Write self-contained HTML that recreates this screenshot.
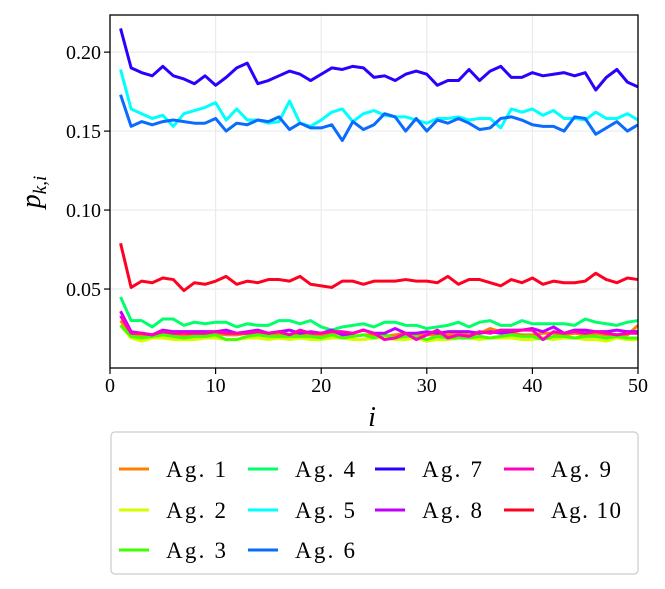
<!DOCTYPE html>
<html><head><meta charset="utf-8"><style>
body{margin:0;background:#fff}
svg{display:block}
text{font-family:"Liberation Serif",serif;fill:#000}
</style></head><body>
<svg id="chart" width="665" height="589" viewBox="0 0 665 589" xmlns="http://www.w3.org/2000/svg">
<g id="grid"></g>
<g id="series"></g>
<rect x="110" y="15" width="528" height="353" fill="none" stroke="#000" stroke-width="1.3"/>
<g id="ticks"></g>
<text x="372" y="426" font-size="28" font-style="italic" text-anchor="middle">i</text>
<text transform="translate(40,192) rotate(-90)" font-size="28" font-style="italic" text-anchor="middle">p<tspan font-size="19" dy="6">k,i</tspan></text>
<g>
<rect x="111" y="432" width="527" height="142" rx="4" fill="#fff" stroke="#ccc" stroke-width="1.2"/>
<g id="legend-items"></g>
</g>
</svg>
<script>
const xs = Array.from({length:50},(_,i)=>i+1);
const labels = ["Ag. 1","Ag. 2","Ag. 3","Ag. 4","Ag. 5","Ag. 6","Ag. 7","Ag. 8","Ag. 9","Ag. 10"];
const colors = ["#ff8000","#d4ff00","#40ff00","#00ff6a","#00ffff","#0a6bff","#2a00ff","#bf00ff","#ff00bf","#ff0020"];
const ag1 = [0.030,0.021,0.020,0.021,0.022,0.021,0.020,0.021,0.021,0.022,0.021,0.021,0.022,0.022,0.021,0.021,0.021,0.022,0.020,0.021,0.022,0.022,0.020,0.021,0.021,0.020,0.021,0.022,0.021,0.021,0.021,0.021,0.022,0.021,0.022,0.025,0.023,0.022,0.021,0.021,0.022,0.022,0.021,0.022,0.021,0.022,0.021,0.021,0.021,0.027];
const ag2 = [0.027,0.019,0.017,0.019,0.019,0.018,0.018,0.018,0.019,0.019,0.018,0.018,0.019,0.019,0.018,0.019,0.018,0.019,0.018,0.018,0.019,0.019,0.018,0.018,0.019,0.019,0.018,0.018,0.019,0.017,0.018,0.018,0.019,0.019,0.018,0.019,0.019,0.019,0.018,0.018,0.019,0.018,0.019,0.019,0.018,0.018,0.017,0.019,0.018,0.018];
const ag3 = [0.027,0.020,0.019,0.020,0.021,0.020,0.019,0.020,0.020,0.021,0.018,0.018,0.020,0.021,0.020,0.020,0.020,0.020,0.020,0.019,0.021,0.019,0.020,0.021,0.019,0.021,0.019,0.020,0.020,0.018,0.020,0.019,0.019,0.019,0.020,0.019,0.020,0.021,0.020,0.020,0.018,0.020,0.020,0.019,0.020,0.020,0.019,0.020,0.019,0.019];
const ag4 = [0.045,0.030,0.030,0.026,0.031,0.031,0.027,0.029,0.028,0.029,0.029,0.026,0.028,0.027,0.027,0.030,0.030,0.028,0.030,0.026,0.024,0.026,0.027,0.028,0.026,0.029,0.029,0.027,0.027,0.025,0.026,0.027,0.029,0.026,0.029,0.030,0.027,0.027,0.030,0.028,0.028,0.028,0.028,0.027,0.031,0.029,0.028,0.027,0.029,0.030];
const ag5 = [0.189,0.164,0.161,0.158,0.160,0.153,0.161,0.163,0.165,0.168,0.157,0.164,0.157,0.157,0.155,0.156,0.169,0.155,0.153,0.157,0.162,0.164,0.156,0.161,0.163,0.160,0.159,0.159,0.157,0.155,0.158,0.158,0.159,0.157,0.158,0.158,0.152,0.164,0.162,0.164,0.160,0.163,0.158,0.158,0.157,0.162,0.158,0.158,0.161,0.157];
const ag6 = [0.173,0.153,0.156,0.154,0.156,0.157,0.156,0.155,0.155,0.158,0.150,0.155,0.154,0.157,0.156,0.159,0.151,0.155,0.152,0.152,0.154,0.144,0.156,0.151,0.154,0.161,0.159,0.150,0.158,0.150,0.157,0.155,0.158,0.155,0.151,0.152,0.158,0.159,0.157,0.154,0.153,0.153,0.150,0.159,0.158,0.148,0.152,0.156,0.150,0.154];
const ag7 = [0.215,0.190,0.187,0.185,0.191,0.185,0.183,0.180,0.185,0.179,0.184,0.190,0.193,0.180,0.182,0.185,0.188,0.186,0.182,0.186,0.190,0.189,0.191,0.190,0.184,0.185,0.182,0.186,0.188,0.186,0.179,0.182,0.182,0.189,0.182,0.188,0.191,0.184,0.184,0.187,0.185,0.186,0.187,0.185,0.187,0.176,0.184,0.189,0.181,0.178];
const ag8 = [0.036,0.023,0.022,0.021,0.024,0.023,0.023,0.023,0.023,0.023,0.024,0.022,0.023,0.024,0.022,0.023,0.024,0.022,0.023,0.022,0.024,0.021,0.022,0.024,0.022,0.022,0.025,0.022,0.022,0.023,0.022,0.023,0.023,0.023,0.022,0.023,0.022,0.023,0.024,0.025,0.023,0.026,0.022,0.024,0.024,0.023,0.023,0.024,0.023,0.023];
const ag9 = [0.033,0.022,0.022,0.021,0.023,0.022,0.022,0.022,0.022,0.023,0.022,0.022,0.022,0.023,0.022,0.023,0.021,0.024,0.022,0.022,0.023,0.023,0.022,0.024,0.022,0.018,0.019,0.022,0.018,0.021,0.024,0.019,0.021,0.020,0.023,0.022,0.024,0.024,0.024,0.024,0.018,0.023,0.022,0.023,0.022,0.023,0.022,0.021,0.022,0.022];
const ag10 = [0.079,0.051,0.055,0.054,0.057,0.056,0.049,0.054,0.053,0.055,0.058,0.053,0.055,0.054,0.056,0.056,0.055,0.058,0.053,0.052,0.051,0.055,0.055,0.053,0.055,0.055,0.055,0.056,0.055,0.055,0.054,0.058,0.053,0.056,0.056,0.054,0.052,0.056,0.054,0.057,0.053,0.055,0.054,0.054,0.055,0.060,0.056,0.054,0.057,0.056];
const series = [ag1,ag2,ag3,ag4,ag5,ag6,ag7,ag8,ag9,ag10];
const xTicks = [0,10,20,30,40,50];
const yTicks = [0.05,0.10,0.15,0.20];
const yTickLabels = ["0.05","0.10","0.15","0.20"];

const NS="http://www.w3.org/2000/svg";
const X0=110,X1=638,Y0=368,Y1=15;
const xMin=0,xMax=50,yMin=0,yMax=0.2235;
const sx=v=>X0+(v-xMin)/(xMax-xMin)*(X1-X0);
const sy=v=>Y0-(v-yMin)/(yMax-yMin)*(Y0-Y1);
function mk(tag,attrs,parent){const e=document.createElementNS(NS,tag);for(const k in attrs)e.setAttribute(k,attrs[k]);parent.appendChild(e);return e;}
const grid=document.getElementById('grid'),ticks=document.getElementById('ticks'),sg=document.getElementById('series'),lg=document.getElementById('legend-items');
xTicks.forEach(t=>{
  const l=mk('line',{x1:sx(t),x2:sx(t),y1:Y1,y2:Y0,stroke:'#ebebeb','stroke-width':1.2},grid);
  
  
  const tk=mk('line',{x1:sx(t),x2:sx(t),y1:Y0,y2:Y0+6,stroke:'#000','stroke-width':1.2},ticks);
  
  
  const tx=mk('text',{x:sx(t),y:Y0+24,'font-size':20,'text-anchor':'middle'},ticks);
  tx.textContent=t;
  
  
});
yTicks.forEach((t,i)=>{
  const l=mk('line',{x1:X0,x2:X1,y1:sy(t),y2:sy(t),stroke:'#ebebeb','stroke-width':1.2},grid);
  
  
  const tk=mk('line',{x1:X0-6,x2:X0,y1:sy(t),y2:sy(t),stroke:'#000','stroke-width':1.2},ticks);
  
  
  const tx=mk('text',{x:X0-9,y:sy(t)+7,'font-size':20,'text-anchor':'end'},ticks);
  tx.textContent=yTickLabels[i];
  
  
});
series.forEach((s,k)=>{
  const p=mk('polyline',{points:s.map((v,i)=>sx(xs[i])+','+sy(v)).join(' '),fill:'none',stroke:colors[k],'stroke-width':3,'stroke-linejoin':'round'},sg);
  
  
});
const colX=[119,248,375,504], rowY=[469,510,550];
const order=[[0,0],[0,1],[0,2],[1,0],[1,1],[1,2],[2,0],[2,1],[3,0],[3,1]];
order.forEach(([c,r],k)=>{
  const g=mk('g',{},lg);
  
  
  mk('line',{x1:colX[c],x2:colX[c]+30,y1:rowY[r],y2:rowY[r],stroke:colors[k],'stroke-width':3},g);
  const t=mk('text',{x:colX[c]+47,y:rowY[r]+8,'font-size':23,textLength:labels[k].length>5?70:60,lengthAdjust:'spacing'},g);
  t.textContent=labels[k];
});
</script>
</body></html>
